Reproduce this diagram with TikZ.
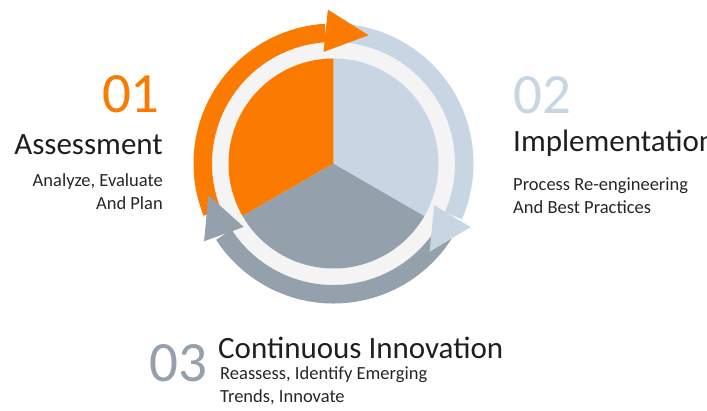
\documentclass[tikz,border=0pt]{standalone}
\usepackage{fontspec}
\setmainfont{Carlito}
\usetikzlibrary{positioning}
\definecolor{cyorange}{HTML}{FA7B00}
\definecolor{cyblue}{HTML}{C8D5E3}
\definecolor{cygray}{HTML}{94A0AB}
\definecolor{cyring}{HTML}{F4F4F4}

\begin{document}
\begin{tikzpicture}[x=1pt, y=1pt,
    num/.style={inner sep=0pt, font=\fontsize{57}{57}\selectfont},
    head/.style={inner sep=0pt, text=black!88, font=\fontsize{31}{31}\selectfont},
    sub/.style={inner sep=0pt, text=black!85, font=\fontsize{18.5}{23}\selectfont}]
    \useasboundingbox (0,0) rectangle (707,411);
    \clip (0,0) rectangle (707,411);
    \coordinate (c) at (333.5,247.5);

    % ring and pie
    \fill[cyring] (c) circle[radius=121.5pt];
    \fill[cyorange] (c) -- ([shift={(90:105pt)}]c) arc[start angle=90, end angle=210, radius=105pt] -- cycle;
    \fill[cygray] (c) -- ([shift={(210:105pt)}]c) arc[start angle=210, end angle=330, radius=105pt] -- cycle;
    \fill[cyblue] (c) -- ([shift={(-30:105pt)}]c) arc[start angle=-30, end angle=90, radius=105pt] -- cycle;

    % arrow bands, then heads
    \foreach \col/\from/\to in {cyorange/202/93.5, cyblue/90/-23.5, cygray/-30/-147}
        \draw[\col, line width=18.5pt] ([shift={(\from:130.75pt)}]c) arc[start angle=\from, end angle=\to, radius=130.75pt];
    \foreach \col/\a/\ra/\b/\rb/\t/\rt in {cyorange/95.1/112/92.1/154/74.7/133,
                                            cyblue/-22.5/109/-24.9/151/-42.6/130.5,
                                            cygray/215.2/110/211/151/194.2/129}
        \fill[\col] ([shift={(\a:\ra pt)}]c) -- ([shift={(\b:\rb pt)}]c) -- ([shift={(\t:\rt pt)}]c) -- cycle;

    % 01
    \node[num, text=cyorange, anchor=base east] (n1) at (160,298) {01};
    \node[head, anchor=base east] (h1) at (163,256.5) {Assessment};
    \node[sub, anchor=base east] (s1) at (163,224.3) {Analyze, Evaluate};
    \node[sub, anchor=base east] (s1b) at ([yshift=-23.3pt]s1.base east) {And Plan};

    % 02
    \node[num, text=cyblue, anchor=base west] (n2) at (513,297.7) {02};
    \node[head, anchor=base west] (h2) at (513,259) {Implementation};
    \node[sub, anchor=base west] (s2) at (513,220.3) {Process Re-engineering};
    \node[sub, anchor=base west] (s2b) at ([yshift=-22.4pt]s2.base west) {And Best Practices};

    % 03
    \node[num, text=cygray, anchor=base west] (n3) at (149,29.3) {03};
    \node[head, anchor=base west] (h3) at (218,52.7) {Continuous Innovation};
    \node[sub, anchor=base west] (s3) at (220,31) {Reassess, Identify Emerging};
    \node[sub, anchor=base west] (s3b) at ([yshift=-22.7pt]s3.base west) {Trends, Innovate};
\end{tikzpicture}
\end{document}
